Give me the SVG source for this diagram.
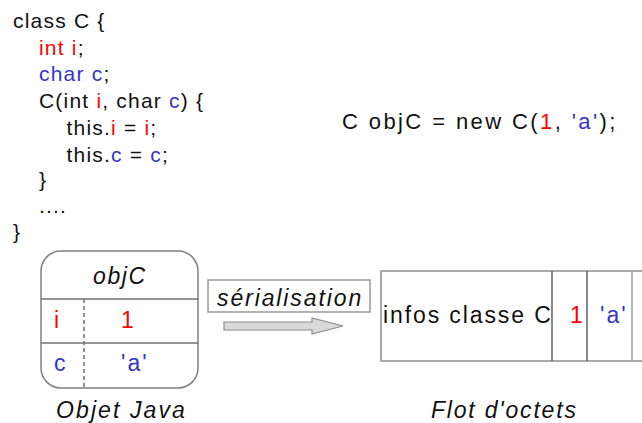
<svg xmlns="http://www.w3.org/2000/svg" width="642" height="423" viewBox="0 0 642 423">
<style>
text{font-family:"Liberation Sans",Arial,sans-serif;fill:#111}
.code{font-size:21px;letter-spacing:1.2px}
.big{font-size:22px;letter-spacing:2.4px}
.cell{font-size:23px;letter-spacing:2px}
.it{font-style:italic;font-size:23px;letter-spacing:1.9px}
.r{fill:#ff0000}
.b{fill:#3535c8}
.box{fill:#fff;stroke:#808080;stroke-width:1.5}
.ln{stroke:#707070;stroke-width:1.5;fill:none}
</style>
<rect width="642" height="423" fill="#fff"/>
<g id="code">
<text class="code" x="13" y="27.5">class C {</text>
<text class="code" x="39" y="54.5"><tspan class="r">int i</tspan>;</text>
<text class="code" x="39" y="81"><tspan class="b">char c</tspan>;</text>
<text class="code" x="39" y="108">C(int <tspan class="r">i</tspan>, char <tspan class="b">c</tspan>) {</text>
<text class="code" x="66.5" y="135">this.<tspan class="r">i</tspan> = <tspan class="r">i</tspan>;</text>
<text class="code" x="66.5" y="161.5">this.<tspan class="b">c</tspan> = <tspan class="b">c</tspan>;</text>
<text class="code" x="39" y="187">}</text>
<text class="code" x="39" y="213">....</text>
<text class="code" x="13" y="239">}</text>
</g>
<g id="instanciation">
<text class="big" x="342" y="129">C objC = new C(<tspan class="r">1</tspan>, <tspan class="b">'a'</tspan>);</text>
</g>
<g id="objet">
<rect class="box" x="41" y="251" width="157" height="137" rx="20" ry="20"/>
<line class="ln" x1="41" y1="299" x2="198" y2="299"/>
<line class="ln" x1="41" y1="343" x2="198" y2="343" stroke="#909090"/>
<line x1="84" y1="299" x2="84" y2="388" stroke="#707070" stroke-width="1.5" stroke-dasharray="4,3"/>
<text class="it" x="93" y="283.5" style="letter-spacing:1.6px">objC</text>
<text class="cell r" x="54" y="328">i</text>
<text class="cell r" x="121" y="328">1</text>
<text class="cell b" x="54" y="371">c</text>
<text class="cell b" x="121" y="371">'a'</text>
<text class="it" x="56" y="417.5" style="letter-spacing:2.1px">Objet Java</text>
</g>
<g id="serialisation">
<rect x="208" y="280" width="162" height="32" fill="#fff" stroke="#999" stroke-width="1.5"/>
<text class="it" x="217" y="306">sérialisation</text>
</g>
<g id="connectors">
<polygon points="224,322 312,322 312,318 343,326 312,334 312,330 224,330" fill="#d9d9d9" stroke="#8c8c8c" stroke-width="1.2"/>
</g>
<g id="flot">
<path d="M642,271 H381 V361 H642" fill="#fff" stroke="#909090" stroke-width="1.5"/>
<line x1="552" y1="271" x2="552" y2="361" stroke="#606060" stroke-width="1.5"/>
<line x1="587" y1="271" x2="587" y2="361" stroke="#606060" stroke-width="1.5"/>
<line x1="632" y1="271" x2="632" y2="361" stroke="#a0a0a0" stroke-width="1.5"/>
<text class="cell" x="383" y="322.5" style="letter-spacing:1.9px">infos classe C</text>
<text class="cell r" x="570" y="322.5">1</text>
<text class="cell b" x="600" y="322.5">'a'</text>
<text class="it" x="431" y="417.5" style="letter-spacing:1.8px">Flot d'octets</text>
</g>
</svg>
